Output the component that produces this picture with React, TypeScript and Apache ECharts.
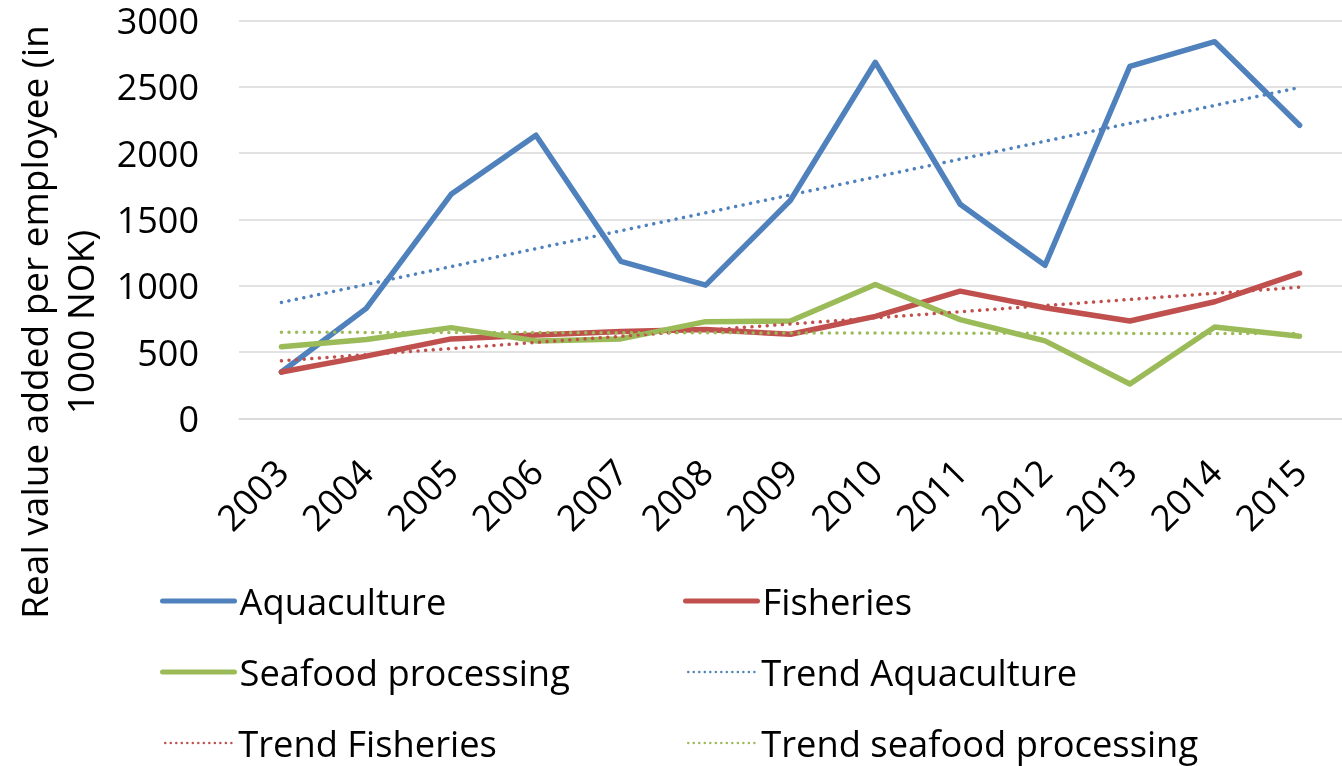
import React, { useEffect, useRef } from "react";
import * as echarts from "echarts";

const years = ["2003","2004","2005","2006","2007","2008","2009","2010","2011","2012","2013","2014","2015"];
const aquaculture = [350, 830, 1690, 2135, 1185, 1005, 1645, 2685, 1615, 1155, 2655, 2840, 2210];
const fisheries = [350, 470, 600, 630, 655, 670, 635, 770, 960, 835, 735, 880, 1095];
const seafood = [540, 595, 685, 585, 600, 730, 735, 1010, 745, 585, 260, 690, 620];
// trend line endpoints (2003, 2015)
const trendAquaculture = [875, 2495];
const trendFisheries = [435, 990];
const trendSeafood = [650, 640];
const yTicks = { min: 0, max: 3000, interval: 500 };

const FONT = "Open Sans";
const BLUE = "#4F81BD";
const RED = "#C0504D";
const GREEN = "#9BBB59";
const SOLID_W = 5.5;
const DOT_W = 3.5;
const DOT_DASH = [0.01, 7.6];

function endpoints(pair: number[]) {
  return years.map((_, i) => (i === 0 ? pair[0] : i === years.length - 1 ? pair[1] : null));
}

export default function App() {
  const ref = useRef<HTMLDivElement>(null);
  useEffect(() => {
    const chart = echarts.init(ref.current!, undefined, { renderer: "svg" });
    const solid = (name: string, data: number[], color: string) => ({
      name, type: "line", data, symbol: "none", color,
      lineStyle: { color, width: SOLID_W, cap: "round", join: "round" },
    });
    const dotted = (name: string, pair: number[], color: string) => ({
      name, type: "line", data: endpoints(pair), connectNulls: true, symbol: "none", color,
      lineStyle: { color, width: DOT_W, type: DOT_DASH, cap: "round" },
    });
    const legendItem = (name: string, color: string, isDotted: boolean, left: number, top: number) => ({
      orient: "horizontal", left, top, padding: 0, itemWidth: isDotted ? 68 : 72, itemHeight: 14,
      data: [name],
      itemStyle: { opacity: 0 },
      lineStyle: isDotted
        ? { color, width: 2.5, type: [0.01, 5.5], cap: "round" }
        : { color, width: 5, cap: "round" },
      textStyle: { fontSize: 36.3, fontFamily: FONT, color: "#000" },
    });
    const rows = [583, 654, 725];
    chart.setOption({
      animation: false,
      grid: { left: 239, right: -9, top: 20.5, bottom: 347.5 },
      xAxis: {
        type: "category", data: years, boundaryGap: true,
        axisLine: { show: true, lineStyle: { color: "#D9D9D9", width: 1.5 } },
        axisTick: { show: false },
        axisLabel: { rotate: 45, fontSize: 36, fontFamily: FONT, color: "#000", margin: 47, interval: 0 },
      },
      yAxis: {
        type: "value", ...yTicks,
        axisLine: { show: false }, axisTick: { show: false },
        axisLabel: { fontSize: 36, fontFamily: FONT, color: "#000", margin: 40, formatter: (v: number) => String(v) },
        splitLine: { lineStyle: { color: "#D9D9D9", width: 1.5 } },
      },
      legend: [
        legendItem("Aquaculture", BLUE, false, 160, rows[0]),
        legendItem("Fisheries", RED, false, 683, rows[0]),
        legendItem("Seafood processing", GREEN, false, 160, rows[1]),
        legendItem("Trend Aquaculture", BLUE, true, 687, rows[1]),
        legendItem("Trend Fisheries", RED, true, 164, rows[2]),
        legendItem("Trend seafood processing", GREEN, true, 687, rows[2]),
      ],
      graphic: [
        {
          type: "text", x: 56, y: 322, rotation: Math.PI / 2,
          style: {
            text: "Real value added per employee (in\n1000 NOK)",
            font: `37px "${FONT}"`, fill: "#000", align: "center", verticalAlign: "middle", lineHeight: 46,
          },
        },
      ],
      series: [
        solid("Aquaculture", aquaculture, BLUE),
        solid("Fisheries", fisheries, RED),
        solid("Seafood processing", seafood, GREEN),
        dotted("Trend Aquaculture", trendAquaculture, BLUE),
        dotted("Trend Fisheries", trendFisheries, RED),
        dotted("Trend seafood processing", trendSeafood, GREEN),
      ],
    });
    return () => chart.dispose();
  }, []);
  return <div ref={ref} style={{ position: "fixed", left: 0, top: 0, width: 1342, height: 766 }} />;
}
